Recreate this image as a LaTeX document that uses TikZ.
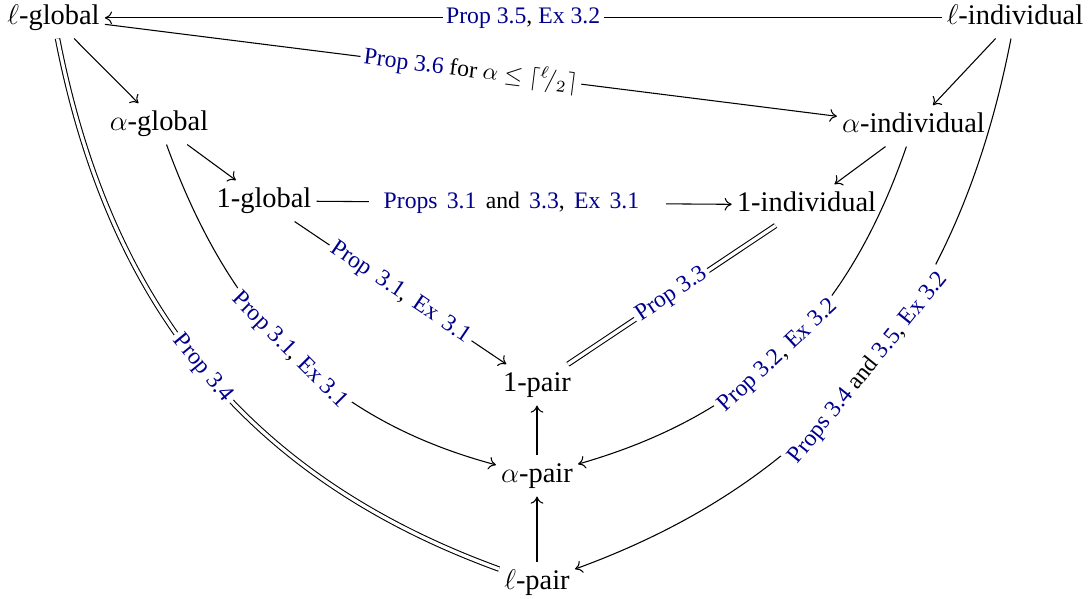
\documentclass[tikz,border=0pt]{standalone}
\usepackage{fontspec}
\setmainfont{Liberation Serif}
\usetikzlibrary{arrows.meta}
\definecolor{linkblue}{RGB}{0,0,140}
\newcommand\blkt[1]{\textcolor{black}{#1}}
\newcommand\widesp{\spaceskip=3.9pt plus 1pt\relax}
\begin{document}
\begin{tikzpicture}[x=0.422pt,y=0.422pt,>={Computer Modern Rightarrow[length=3pt,width=5.4pt]},line width=0.45pt,
  obj/.style={anchor=base,font=\fontsize{12}{14}\selectfont,text height=9pt,text depth=3pt,inner xsep=2pt,inner ysep=2.5pt},
  lab/.style={font=\fontsize{10}{12}\selectfont,text=linkblue,fill=white,inner sep=1.5pt},
  wide/.style={execute at begin node=\widesp},
  dbl/.style={double,double distance=1.4pt}]
\useasboundingbox (0,0) rectangle (1091,599);
\node[obj] (lg) at (53.5,574) {$\ell$-global};
\node[obj] (li) at (1015,574) {$\ell$-individual};
\node[obj] (ag) at (159,468) {$\alpha$-global};
\node[obj] (ai) at (913.5,466) {$\alpha$-individual};
\node[obj] (og) at (264,391) {1-global};
\node[obj] (oi) at (806.5,387) {1-individual};
\node[obj] (op) at (537,207) {1-pair};
\node[obj] (ap) at (537,116) {$\alpha$-pair};
\node[obj] (lp) at (537,9) {$\ell$-pair};
\draw[->] (li) -- node[lab]{Prop 3.5\blkt{,} Ex 3.2} (lg);
\draw[->] (lg) -- node[lab,sloped]{Prop 3.6 \blkt{for $\alpha\leq\lceil{}^{\ell}\!/_{2}\rceil$}} (ai);
\draw[->] (lg) -- (ag);
\draw[->] (ag) -- (og);
\draw[->] (li) -- (ai);
\draw[->] (ai) -- (oi);
\draw[->] (og) -- node[lab,wide,pos=0.485,inner xsep=6pt]{Props 3.1 \blkt{and} 3.3\blkt{,} Ex 3.1\hspace{5.5pt}\null} (oi);
\draw[->] (og) -- node[lab,wide,sloped]{Prop 3.1\blkt{,} Ex 3.1} (op);
\draw[dbl] (oi) -- node[lab,sloped]{Prop 3.3} (op);
\draw[->] (ag) to[out=-70,in=165] node[lab,sloped]{Prop 3.1\blkt{,} Ex 3.1} (ap);
\draw[->] (ai) to[out=-109,in=16] node[lab,sloped,pos=0.52]{Prop 3.2\blkt{,} Ex 3.2} (ap);
\draw[dbl] (lg) to[out=-79,in=160] node[lab,sloped]{Prop 3.4} (lp);
\draw[->] (li) to[out=-101,in=20] node[lab,sloped]{Props 3.4 \blkt{and} 3.5\blkt{,} Ex 3.2} (lp);
\draw[->] (ap) -- (op);
\draw[->] (lp) -- (ap);
\end{tikzpicture}
\end{document}
